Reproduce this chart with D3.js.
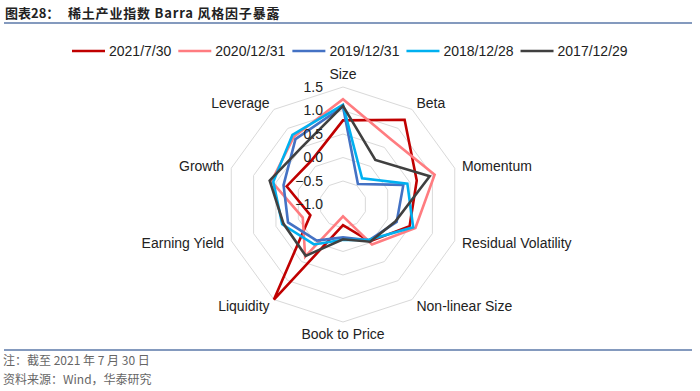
<!DOCTYPE html>
<html>
<head>
<meta charset="utf-8">
<script src="https://cdn.jsdelivr.net/npm/d3@7"></script>
<style>
  body { margin: 0; background: #fff; }
  text { font-family: "Liberation Sans", Arial, sans-serif; }
  .cjk { font-family: "Noto Sans CJK SC", sans-serif; }
</style>
</head>
<body>
<div id="chart"></div>
<script>
// factor axes, clockwise from the top
const factors = ["Size", "Beta", "Momentum", "Residual Volatility", "Non-linear Size",
                 "Book to Price", "Liquidity", "Earning Yield", "Growth", "Leverage"];
const dates = ["2021/7/30", "2020/12/31", "2019/12/31", "2018/12/28", "2017/12/29"];
const colors = ["#C00000", "#FF7C80", "#4472C4", "#00B0F0", "#404040"];

// exposures, same order as factors
const s20210730 = [0.79, 1.23, 0.65, 0.49, -0.03, -0.56, 1.50, -0.27, 0.26, 0.15];
const s20201231 = [1.24, 0.72, 1.05, 0.62, 0.05, -0.75, 0.37, -0.10, 0.60, 0.78];
const s20191231 = [1.08, -0.46, 0.35, 0.20, -0.06, -0.30, -0.05, 0.23, 0.33, 0.72];
const s20181228 = [1.12, -0.31, 0.44, 0.57, -0.07, -0.25, 0.05, 0.36, 0.56, 0.83];
const s20171229 = [1.10, 0.17, 0.94, 0.17, -0.02, -0.26, 0.35, 0.33, 0.64, 0.50];
const series = [s20210730, s20201231, s20191231, s20181228, s20171229];

const ticks = [-1.0, -0.5, 0.0, 0.5, 1.0, 1.5];

const width = 700, height = 391;
const cx = 343, cy = 204.5, radius = 117.5;

const svg = d3.select("#chart").append("svg")
    .attr("width", width)
    .attr("height", height);

// title + rules
svg.append("text").attr("class", "cjk")
    .attr("x", 5).attr("y", 18)
    .attr("font-size", 13).attr("font-weight", "bold").attr("fill", "#222")
    .text("图表28：");
svg.append("text").attr("class", "cjk")
    .attr("x", 68).attr("y", 18)
    .attr("font-size", 13).attr("font-weight", "bold").attr("fill", "#222")
    .attr("letter-spacing", 0.8)
    .text("稀土产业指数 Barra 风格因子暴露");
svg.append("line").attr("x1", 4).attr("x2", 692).attr("y1", 23).attr("y2", 23)
    .attr("stroke", "#5B79A8").attr("stroke-width", 1.3);
svg.append("line").attr("x1", 4).attr("x2", 692).attr("y1", 350).attr("y2", 350)
    .attr("stroke", "#5B79A8").attr("stroke-width", 1.3);

// footer notes
svg.append("text").attr("class", "cjk")
    .attr("x", 3).attr("y", 365).attr("font-size", 12).attr("fill", "#666")
    .text("注：截至 2021 年 7 月 30 日");
svg.append("text").attr("class", "cjk")
    .attr("x", 3).attr("y", 384).attr("font-size", 12).attr("fill", "#666")
    .text("资料来源：Wind，华泰研究");

// scales
const rScale = d3.scaleLinear().domain([-1, 1.5]).range([0, radius]);
const angle = d3.scalePoint().domain(factors).range([0, 2 * Math.PI * 9 / 10]);

const g = svg.append("g").attr("transform", `translate(${cx},${cy})`);

// grid rings (decagons)
const ringLine = d3.lineRadial()
    .angle(d => angle(d))
    .curve(d3.curveLinearClosed);
g.selectAll(".ring")
    .data(ticks.slice(1))
    .enter()
    .append("path")
    .attr("class", "ring")
    .attr("d", t => ringLine.radius(rScale(t))(factors))
    .attr("fill", "none")
    .attr("stroke", "#D9D9D9")
    .attr("stroke-width", 1);

// series
const seriesLine = d3.lineRadial()
    .angle((d, i) => angle(factors[i]))
    .radius(d => rScale(d))
    .curve(d3.curveLinearClosed);
g.selectAll(".series")
    .data(series)
    .enter()
    .append("path")
    .attr("class", "series")
    .attr("d", d => seriesLine(d))
    .attr("fill", "none")
    .attr("stroke", (d, i) => colors[i])
    .attr("stroke-width", 2.6)
    .attr("stroke-linejoin", "miter");

// tick labels along the Size axis
g.selectAll(".tick")
    .data(ticks)
    .enter()
    .append("text")
    .attr("x", -20)
    .attr("y", t => -rScale(t))
    .attr("dy", "0.35em")
    .attr("text-anchor", "end")
    .attr("font-size", 14)
    .attr("fill", "#222")
    .text(d3.format(".1f"));

// axis labels
g.selectAll(".axis-label")
    .data(factors)
    .enter()
    .append("text")
    .attr("x", d => Math.sin(angle(d)) * (radius + 7.5))
    .attr("y", d => {
        const c = -Math.cos(angle(d));
        const y = c * (radius + 7.5);
        return Math.abs(Math.sin(angle(d))) < 0.1 ? y + c * 5 : y;
    })
    .attr("dy", "0.35em")
    .attr("text-anchor", d => {
        const s = Math.sin(angle(d));
        return s > 0.1 ? "start" : (s < -0.1 ? "end" : "middle");
    })
    .attr("font-size", 14)
    .attr("fill", "#222")
    .text(d => d);

// legend
const legend = svg.append("g").attr("transform", "translate(72,51)");
let lx = 0;
dates.forEach((d, i) => {
    legend.append("line")
        .attr("x1", lx).attr("x2", lx + 33)
        .attr("y1", 0).attr("y2", 0)
        .attr("stroke", colors[i]).attr("stroke-width", 2.6);
    const t = legend.append("text")
        .attr("x", lx + 37).attr("y", 0).attr("dy", "0.35em")
        .attr("font-size", 14).attr("fill", "#222")
        .text(d);
    lx += 37 + t.node().getComputedTextLength() + 7;
});
</script>
</body>
</html>
